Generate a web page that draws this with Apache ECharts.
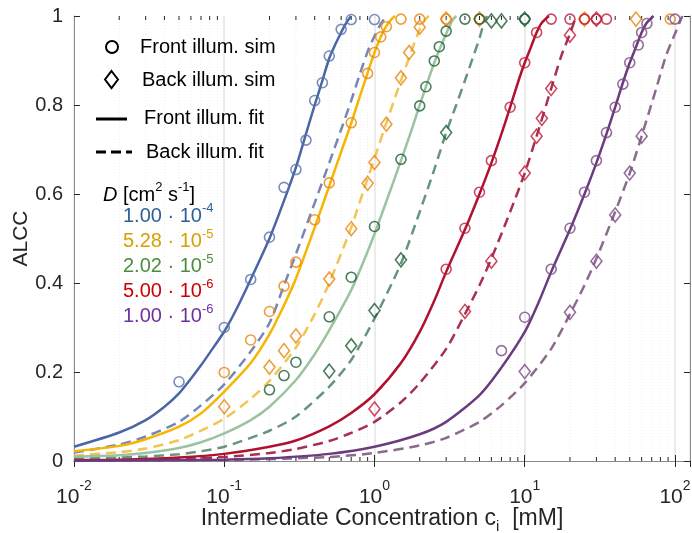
<!DOCTYPE html>
<html>
<head>
<meta charset="utf-8">
<script src="https://cdn.jsdelivr.net/npm/echarts@6/dist/echarts.min.js"></script>
<style>html,body{margin:0;padding:0;background:#fff;}#c{width:692px;height:533px;}</style>
</head>
<body>
<div id="c"></div>
<script>
// ---------------- DATA (concentration in mM, ALCC) ----------------
// D = 1.00e-4
const fitFront_D1 = [[0.01,0.032],[0.02,0.064],[0.03,0.092],[0.04,0.122],[0.05,0.152],[0.06,0.185],[0.07,0.215],[0.08,0.243],[0.1,0.291],[0.12,0.34],[0.15,0.408],[0.2,0.50],[0.25,0.585],[0.3,0.66],[0.35,0.735],[0.4,0.80],[0.45,0.855],[0.5,0.905],[0.55,0.937],[0.6,0.963],[0.65,0.985],[0.7,1.0]];
const fitBack_D1  = [[0.01,0.019],[0.02,0.037],[0.03,0.055],[0.05,0.088],[0.07,0.125],[0.1,0.172],[0.15,0.246],[0.2,0.31],[0.25,0.395],[0.3,0.465],[0.4,0.58],[0.5,0.67],[0.6,0.745],[0.7,0.81],[0.8,0.87],[0.9,0.92],[1.0,0.955],[1.1,0.982],[1.2,1.0]];
const simFront_D1 = [[0.05,0.178],[0.1,0.300],[0.15,0.408],[0.2,0.503],[0.25,0.615],[0.3,0.655],[0.35,0.721],[0.4,0.81],[0.45,0.85],[0.5,0.91],[0.6,0.97],[0.7,0.992],[1.0,0.992]];
const simBack_D1  = [];
// D = 5.28e-5
const fitFront_D2 = [[0.01,0.022],[0.02,0.034],[0.03,0.049],[0.05,0.077],[0.07,0.107],[0.1,0.156],[0.15,0.22],[0.2,0.285],[0.25,0.35],[0.3,0.41],[0.4,0.525],[0.5,0.618],[0.6,0.695],[0.7,0.759],[0.8,0.82],[0.9,0.872],[1.0,0.918],[1.1,0.953],[1.2,0.978],[1.3,0.993],[1.37,1.0]];
const fitBack_D2  = [[0.01,0.012],[0.02,0.02],[0.03,0.028],[0.05,0.047],[0.07,0.068],[0.1,0.095],[0.15,0.14],[0.2,0.18],[0.3,0.255],[0.4,0.33],[0.5,0.40],[0.7,0.525],[0.85,0.61],[1.0,0.68],[1.2,0.76],[1.5,0.855],[1.8,0.93],[2.0,0.97],[2.15,0.99],[2.3,1.0]];
const simFront_D2 = [[0.1,0.199],[0.15,0.272],[0.2,0.336],[0.25,0.393],[0.3,0.447],[0.4,0.542],[0.5,0.625],[0.7,0.760],[0.9,0.871],[1.0,0.918],[1.1,0.953],[1.2,0.976],[1.5,0.993],[2.0,0.993],[3.0,0.993],[5.0,0.993],[25,0.993],[93,0.993]];
const simBack_D2  = [[0.1,0.122],[0.2,0.211],[0.25,0.248],[0.3,0.281],[0.5,0.409],[0.7,0.522],[0.9,0.624],[1.0,0.671],[1.2,0.757],[1.5,0.861],[1.7,0.918],[2.0,0.975],[3.0,0.993],[5.0,0.993],[25,0.993],[55,0.993]];
// D = 2.02e-5
const fitFront_D3 = [[0.01,0.010],[0.02,0.013],[0.03,0.018],[0.05,0.029],[0.07,0.042],[0.1,0.062],[0.15,0.092],[0.2,0.122],[0.3,0.182],[0.4,0.24],[0.5,0.294],[0.7,0.384],[0.85,0.45],[1.0,0.51],[1.25,0.6],[1.5,0.675],[1.75,0.74],[2.0,0.80],[2.5,0.895],[3.0,0.96],[3.3,0.99],[3.5,1.0]];
const fitBack_D3  = [[0.01,0.006],[0.02,0.008],[0.03,0.01],[0.05,0.015],[0.07,0.022],[0.1,0.032],[0.2,0.068],[0.3,0.10],[0.5,0.167],[0.7,0.227],[1.0,0.32],[1.5,0.444],[2.0,0.56],[2.5,0.655],[3.0,0.738],[3.5,0.80],[4.0,0.855],[4.5,0.905],[5.0,0.95],[5.3,0.98],[5.6,1.0]];
const simFront_D3 = [[0.2,0.160],[0.25,0.192],[0.3,0.222],[0.5,0.324],[0.7,0.413],[1.0,0.527],[1.5,0.678],[2.0,0.798],[2.2,0.841],[2.5,0.899],[2.7,0.931],[3.0,0.966],[4.0,0.993],[5.0,0.993],[10,0.993]];
const simBack_D3  = [[0.5,0.202],[0.7,0.259],[1.0,0.338],[1.5,0.452],[3.0,0.738],[6.0,0.989],[7.0,0.989],[10,0.993]];
// D = 5.00e-6
const fitFront_D4 = [[0.01,0.002],[0.02,0.003],[0.05,0.008],[0.1,0.016],[0.2,0.032],[0.3,0.046],[0.5,0.078],[0.7,0.108],[1.0,0.15],[1.5,0.22],[2.0,0.29],[2.5,0.36],[3.0,0.425],[4.0,0.52],[5.0,0.60],[6.0,0.67],[7.0,0.735],[8.0,0.795],[9.0,0.85],[10,0.895],[11,0.93],[12,0.963],[13,0.985],[14.5,1.0]];
const fitBack_D4  = [[0.01,0.001],[0.05,0.005],[0.1,0.009],[0.2,0.018],[0.3,0.027],[0.5,0.045],[0.7,0.063],[1.0,0.088],[1.5,0.132],[2.0,0.175],[3.0,0.252],[4.0,0.33],[5.0,0.395],[6.0,0.455],[8.0,0.56],[10,0.647],[12,0.73],[15,0.837],[17.5,0.91],[20,0.96],[22,1.0]];
const simFront_D4 = [[3,0.431],[4,0.523],[5,0.604],[6,0.675],[8,0.795],[10,0.895],[12,0.963],[15,0.993],[20,0.993],[25,0.993],[30,0.993],[35,0.993]];
const simBack_D4  = [[1,0.117],[4,0.336],[6,0.449],[10,0.647],[12,0.730],[13,0.770],[15,0.837],[20,0.957],[30,0.993]];
// D = 1.00e-6
const fitFront_D5 = [[0.01,0.0003],[0.1,0.003],[0.2,0.006],[0.5,0.016],[1,0.032],[2,0.06],[3,0.088],[5,0.148],[7,0.21],[10,0.29],[12.5,0.36],[15,0.425],[20,0.52],[25,0.60],[30,0.67],[35,0.735],[40,0.795],[45,0.85],[50,0.895],[55,0.93],[60,0.963],[65,0.985],[72,1.0]];
const fitBack_D5  = [[0.01,0.0002],[0.1,0.002],[0.5,0.009],[1,0.018],[2,0.035],[3,0.052],[5,0.088],[7,0.125],[10,0.175],[15,0.252],[20,0.33],[25,0.395],[30,0.455],[40,0.56],[50,0.647],[60,0.73],[75,0.837],[87,0.91],[100,0.96],[112,1.0]];
const simFront_D5 = [[7,0.248],[10,0.323],[15,0.431],[20,0.523],[25,0.604],[30,0.675],[35,0.738],[40,0.795],[45,0.847],[50,0.895],[57,0.935],[60,0.963],[65,0.983],[100,0.993]];
const simBack_D5  = [[10,0.201],[20,0.334],[30,0.449],[40,0.553],[50,0.647],[60,0.730]];

const dLabels = ['1.00 · 10{sup|-4}','5.28 · 10{sup|-5}','2.02 · 10{sup|-5}','5.00 · 10{sup|-6}','1.00 · 10{sup|-6}'];
const minorTickValues = [0.02,0.03,0.04,0.05,0.06,0.07,0.08,0.09,0.2,0.3,0.4,0.5,0.6,0.7,0.8,0.9,2,3,4,5,6,7,8,9,20,30,40,50,60,70,80,90];
const xMin = 0.01, xMax = 125.9;

// ---------------- STYLE ----------------
const FONT = '"Liberation Sans", Arial, Helvetica, sans-serif';
const TXT = '#262626';
const groups = [
  {ff:fitFront_D1, fb:fitBack_D1, sf:simFront_D1, sb:simBack_D1, line:'#4a66a4', dash:'#7587b6', mark:'#5671aa', text:'#2d5f97'},
  {ff:fitFront_D2, fb:fitBack_D2, sf:simFront_D2, sb:simBack_D2, line:'#f6b500', dash:'#f2c452', mark:'#e8870f', text:'#d6a000'},
  {ff:fitFront_D3, fb:fitBack_D3, sf:simFront_D3, sb:simBack_D3, line:'#9cc3a0', dash:'#67957b', mark:'#1d5c33', text:'#4e8b3a'},
  {ff:fitFront_D4, fb:fitBack_D4, sf:simFront_D4, sb:simBack_D4, line:'#b0112f', dash:'#a8304f', mark:'#c21c3c', text:'#cc0000'},
  {ff:fitFront_D5, fb:fitBack_D5, sf:simFront_D5, sb:simBack_D5, line:'#6b3b80', dash:'#8c6a8d', mark:'#7a4a86', text:'#7030a0'}
];

const series = [];
series.push({
  type:'custom', z:1, silent:true, clip:false,
  data: minorTickValues.map(v => [v, 0]),
  encode:{x:0, y:1},
  renderItem: function(params, api){
    const b = api.coord([api.value(0), 0]);
    const t = api.coord([api.value(0), 1]);
    return {type:'group', children:[
      {type:'line', shape:{x1:b[0],y1:b[1],x2:t[0],y2:t[1]}, style:{stroke:'#ececec', lineWidth:1, lineDash:[1,2]}},
      {type:'line', shape:{x1:b[0],y1:b[1],x2:b[0],y2:b[1]-4}, style:{stroke:TXT, lineWidth:1}},
      {type:'line', shape:{x1:t[0],y1:t[1],x2:t[0],y2:t[1]+4}, style:{stroke:TXT, lineWidth:1}}
    ]};
  }
});
groups.forEach(g => {
  series.push({type:'line', data:g.fb, smooth:0.25, showSymbol:false, z:3,
    lineStyle:{color:g.dash, width:2.5, type:[10,6]}});
  series.push({type:'line', data:g.ff, smooth:0.25, showSymbol:false, z:4,
    lineStyle:{color:g.line, width:2.5}});
});
groups.forEach(g => {
  series.push({type:'scatter', data:g.sf, symbol:'circle', symbolSize:10, z:5,
    itemStyle:{color:'rgba(0,0,0,0)', borderColor:g.mark, borderWidth:1.6}});
  series.push({type:'scatter', data:g.sb, symbol:'diamond', symbolSize:[11,14], z:5,
    itemStyle:{color:'rgba(0,0,0,0)', borderColor:g.mark, borderWidth:1.6}});
});

const supRich = {sup:{fontSize:14, verticalAlign:'top', lineHeight:14, fontFamily:FONT, color:TXT}};
function logLabel(v){
  const k = Math.log10(v), r = Math.round(k);
  if (Math.abs(k - r) > 1e-6) return '';
  return '10{sup|' + r + '}';
}

const graphic = [];
graphic.push({type:'circle', shape:{cx:112, cy:47, r:6}, style:{fill:'none', stroke:'#000', lineWidth:2}, z:10});
graphic.push({type:'polygon', shape:{points:[[111.5,71],[118,79.5],[111.5,88],[105,79.5]]}, style:{fill:'none', stroke:'#000', lineWidth:2}, z:10});
graphic.push({type:'line', shape:{x1:96,y1:119,x2:127,y2:119}, style:{stroke:'#000', lineWidth:3}, z:10});
graphic.push({type:'line', shape:{x1:96,y1:152,x2:132,y2:152}, style:{stroke:'#000', lineWidth:3, lineDash:[10,5]}, z:10});
const legTexts = [['Front illum. sim',140,47],['Back illum. sim',142,80],['Front illum. fit',144,118],['Back illum. fit',146,152]];
legTexts.forEach(t => graphic.push({type:'text', x:t[1], y:t[2], z:10,
  style:{text:t[0], font:'20px '+FONT, fill:'#000', textAlign:'left', textVerticalAlign:'middle'}}));
graphic.push({type:'text', x:103, y:195, z:10, style:{text:'{it|D} [cm{sup|2} s{sup|-1}]', font:'20px '+FONT, fill:'#000',
  textAlign:'left', textVerticalAlign:'middle', lineHeight:28,
  rich:{it:{fontStyle:'italic', fontSize:20, fontFamily:FONT, fill:'#000', lineHeight:28},
        sup:{fontSize:13, verticalAlign:'top', lineHeight:13, fontFamily:FONT, fill:'#000'}}}});
const dY = [216, 241.5, 266.5, 291.5, 316.5];
dLabels.forEach((s,i) => graphic.push({type:'text', x:123, y:dY[i], z:10, style:{text:s, font:'20px '+FONT, fill:groups[i].text,
  textAlign:'left', textVerticalAlign:'middle', lineHeight:28,
  rich:{sup:{fontSize:13, verticalAlign:'top', lineHeight:13, fontFamily:FONT, fill:groups[i].text}}}}));

const axisLineStyle = {color:'#8c8c8c', width:1};
const option = {
  animation:false,
  backgroundColor:'#fff',
  textStyle:{fontFamily:FONT},
  grid:{left:74, right:2, top:16, bottom:72, containLabel:false, outerBoundsMode:'none'},
  xAxis:[{
    type:'log', logBase:10, min:xMin, max:xMax, position:'bottom', splitNumber:4,
    axisLine:{show:true, lineStyle:axisLineStyle},
    axisTick:{show:true, inside:true, length:6, lineStyle:{color:TXT, width:1}},
    splitLine:{show:true, lineStyle:{color:'#e4e4e4', width:1.5}},
    axisLabel:{formatter:logLabel, fontSize:21, lineHeight:36, color:TXT, fontFamily:FONT, margin:18, rich:supRich, showMaxLabel:false, hideOverlap:false},
    name:'Intermediate Concentration c{sub|i}  [mM]', nameLocation:'middle', nameGap:43, nameMoveOverlap:false,
    nameTextStyle:{fontSize:23, color:TXT, fontFamily:FONT, lineHeight:30,
      rich:{sub:{fontSize:15, verticalAlign:'bottom', lineHeight:15, color:TXT, fontFamily:FONT}}}
  },{
    type:'log', logBase:10, min:xMin, max:xMax, position:'top', splitNumber:4,
    axisLine:{show:true, lineStyle:axisLineStyle},
    axisTick:{show:true, inside:true, length:6, lineStyle:{color:TXT, width:1}},
    axisLabel:{show:false}, splitLine:{show:false}
  }],
  yAxis:[{
    type:'value', min:0, max:1, interval:0.2, position:'left',
    axisLine:{show:true, lineStyle:axisLineStyle},
    axisTick:{show:true, inside:true, length:6, lineStyle:{color:TXT, width:1}},
    splitLine:{show:false},
    axisLabel:{fontSize:20, color:TXT, fontFamily:FONT, margin:11},
    name:'ALCC', nameLocation:'middle', nameGap:42, nameMoveOverlap:false,
    nameTextStyle:{fontSize:21, color:TXT, fontFamily:FONT}
  },{
    type:'value', min:0, max:1, interval:0.2, position:'right',
    axisLine:{show:true, lineStyle:axisLineStyle},
    axisTick:{show:true, inside:true, length:6, lineStyle:{color:TXT, width:1}},
    axisLabel:{show:false}, splitLine:{show:false}
  }],
  graphic: graphic,
  series: series
};
const chart = echarts.init(document.getElementById('c'), null, {renderer:'canvas'});
chart.setOption(option);
</script>
</body>
</html>
